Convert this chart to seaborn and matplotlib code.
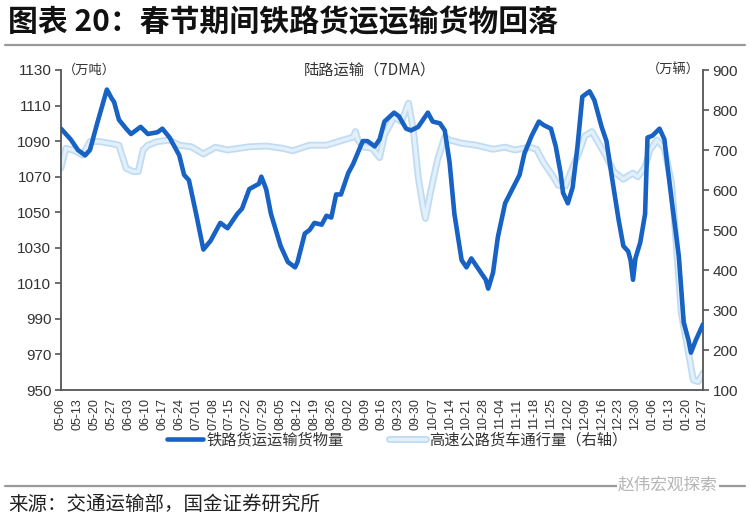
import matplotlib
matplotlib.use("Agg")
import matplotlib.pyplot as plt
import matplotlib.patheffects as pe
from matplotlib.lines import Line2D
import numpy as np
import pandas as pd
import seaborn as sns

# ---------------- data ----------------
start_date = "2019-05-06"
end_date = "2020-01-27"

# railway freight volume, 7DMA (万吨), days since 2019-05-06
rail_day = [0, 4, 7, 10, 12, 15, 19, 21, 22, 24, 27, 29, 33, 36, 40, 42, 45, 49, 51, 53,
            56, 59, 62, 66, 69, 73, 75, 78, 82, 83, 85, 87, 89, 91, 92, 94, 97, 98, 101, 103,
            105, 108, 110, 112, 114, 116, 119, 121, 125, 127, 130, 132, 134, 138, 140, 143, 145, 148, 152, 154,
            157, 159, 161, 163, 166, 168, 170, 173, 176, 177, 179, 181, 184, 187, 190, 192, 195, 198, 200, 203,
            205, 207, 208, 210, 212, 214, 216, 219, 221, 224, 226, 228, 231, 233, 235, 236, 237, 238, 240, 242,
            243, 245, 248, 250, 251, 253, 256, 258, 260, 261, 263, 266]
rail_val = [1097, 1091, 1085, 1082, 1085, 1100, 1119, 1114, 1112, 1102, 1097, 1094, 1098, 1094, 1095, 1097, 1092, 1082, 1071, 1068,
            1049, 1029, 1034, 1044, 1041, 1049, 1052, 1063, 1066, 1070, 1063, 1049, 1040, 1031, 1028, 1022, 1019, 1022, 1038, 1040,
            1044, 1043, 1048, 1047, 1060, 1060, 1072, 1077, 1090, 1090, 1087, 1091, 1101, 1106, 1104, 1097, 1096, 1098, 1106, 1101,
            1100, 1096, 1078, 1049, 1023, 1019, 1024, 1018, 1012, 1007, 1016, 1036, 1055, 1063, 1071, 1083, 1093, 1101, 1099, 1097,
            1087, 1072, 1061, 1055, 1064, 1087, 1115, 1118, 1113, 1098, 1090, 1072, 1046, 1031, 1028, 1023, 1012, 1024, 1033, 1049,
            1092, 1093, 1097, 1091, 1079, 1057, 1025, 988, 978, 971, 978, 987]

# expressway truck traffic, 7DMA (万辆), days since 2019-05-06
truck_day = [0, 2, 5, 9, 12, 16, 20, 24, 25, 27, 30, 32, 34, 36, 40, 45, 49, 54, 59, 64,
             69, 78, 85, 92, 96, 103, 110, 117, 121, 122, 123, 125, 129, 132, 134, 138, 141, 144, 146, 148,
             150, 151, 153, 156, 159, 161, 166, 172, 179, 184, 188, 194, 197, 200, 204, 206, 209, 211, 215, 217,
             220, 222, 226, 229, 233, 235, 237, 239, 242, 244, 247, 250, 253, 255, 257, 260, 262, 264, 266]
truck_val = [655, 704, 700, 687, 721, 721, 717, 712, 692, 654, 646, 646, 700, 712, 721, 725, 712, 708, 690, 707,
             700, 708, 710, 704, 698, 712, 712, 725, 732, 746, 725, 708, 704, 681, 737, 783, 771, 817, 750, 633,
             558, 529, 592, 675, 733, 725, 717, 712, 702, 707, 700, 707, 702, 668, 633, 612, 610, 642, 700, 735,
             746, 725, 683, 646, 627, 635, 642, 633, 658, 700, 725, 704, 617, 458, 292, 192, 125, 121, 142]

left_ticks = list(range(950, 1131, 20))
right_ticks = list(range(100, 901, 100))

title = "图表 20：春节期间铁路货运运输货物回落"
inner_title = "陆路运输（7DMA）"
left_unit = "（万吨）"
right_unit = "（万辆）"
rail_label = "铁路货运运输货物量"
truck_label = "高速公路货车通行量（右轴）"
source = "来源：交通运输部，国金证券研究所"
watermark = "赵伟宏观探索"

# ---------------- build frames ----------------
t0 = pd.Timestamp(start_date)
rail = pd.DataFrame({"date": t0 + pd.to_timedelta(rail_day, unit="D"), "value": rail_val})
truck = pd.DataFrame({"date": t0 + pd.to_timedelta(truck_day, unit="D"), "value": truck_val})
tick_dates = pd.date_range(start_date, end_date, freq="7D")

# ---------------- style ----------------
sns.set_theme(style="white")
plt.rcParams["font.family"] = ["Liberation Sans", "Noto Sans CJK SC", "DejaVu Sans"]
plt.rcParams["axes.unicode_minus"] = False
cjk = ["Noto Sans CJK SC", "DejaVu Sans"]

fig = plt.figure(figsize=(7.5, 5.23), dpi=100)
ax = fig.add_axes([61 / 750, 1 - 390 / 523, (703 - 61) / 750, (390 - 70) / 523])
ax2 = ax.twinx()

dark = "#1762c2"
light_in = "#e2f0fb"
light_edge = "#c1dcf2"
txt = "#333333"
spine_c = "#555555"

sns.lineplot(data=truck, x="date", y="value", ax=ax2, color=light_in, linewidth=2.4,
             path_effects=[pe.Stroke(linewidth=5.0, foreground=light_edge), pe.Normal()],
             label=truck_label, legend=False)
sns.lineplot(data=rail, x="date", y="value", ax=ax, color=dark, linewidth=3.3,
             label=rail_label, legend=False)

ax.set_zorder(ax2.get_zorder() + 1)
ax.patch.set_visible(False)

ax.set_xlim(tick_dates[0], tick_dates[-1])
ax.set_ylim(950, 1130)
ax2.set_ylim(100, 900)
ax.set_yticks(left_ticks)
ax2.set_yticks(right_ticks)
ax.set_xticks(tick_dates)
ax.set_xticklabels([d.strftime("%m-%d") for d in tick_dates], rotation=90)
ax.set_xlabel("")
ax.set_ylabel("")
ax2.set_ylabel("")

for a in (ax, ax2):
    a.grid(False)
    a.spines["top"].set_visible(False)
    for s in ("left", "right", "bottom"):
        a.spines[s].set_color(spine_c)
        a.spines[s].set_linewidth(1.3)
ax.spines["right"].set_visible(False)
ax2.spines["left"].set_visible(False)
ax2.spines["bottom"].set_visible(False)

ax.tick_params(axis="y", direction="out", length=4, width=1.2, colors=spine_c,
               labelcolor=txt, labelsize=11, pad=3)
ax.tick_params(axis="x", direction="out", length=4, width=1.2, colors=spine_c,
               labelcolor=txt, labelsize=9, pad=2)
ax2.tick_params(axis="y", direction="out", length=4, width=1.2, colors=spine_c,
                labelcolor=txt, labelsize=11, pad=3)

# ---------------- texts ----------------
fig.text(8 / 750, 1 - 22 / 523, title, fontsize=21.5, fontweight="bold", color="#111111",
         ha="left", va="center", family=cjk)
fig.add_artist(Line2D([5 / 750, 745 / 750], [1 - 45 / 523] * 2, transform=fig.transFigure,
                      color="#9a9a9a", linewidth=1.6))
fig.text(370 / 750, 1 - 70 / 523, inner_title, fontsize=11, color=txt, ha="center", va="center",
         family=cjk)
fig.text(63 / 750, 1 - 70 / 523, left_unit, fontsize=9.5, color=txt, ha="left", va="center",
         family=cjk)
fig.text(700 / 750, 1 - 70 / 523, right_unit, fontsize=9.5, color=txt, ha="right", va="center",
         family=cjk)

handles = [ax.get_lines()[0], ax2.get_lines()[0]]
leg = fig.legend(handles, [rail_label, truck_label], loc="center",
                 bbox_to_anchor=(397 / 750, 1 - 440 / 523), ncol=2, frameon=False,
                 handlelength=2.4, columnspacing=3.0, handletextpad=0.2,
                 prop={"family": cjk, "size": 11})
for t in leg.get_texts():
    t.set_color(txt)

fig.add_artist(Line2D([5 / 750, 745 / 750], [1 - 486 / 523] * 2, transform=fig.transFigure,
                      color="#9a9a9a", linewidth=1.6))
fig.text(618 / 750, 1 - 485 / 523, watermark, fontsize=12, color="#b5b5b5", ha="left", va="center",
         family=cjk, bbox=dict(facecolor="white", edgecolor="none", pad=1))
fig.text(8 / 750, 1 - 504 / 523, source, fontsize=14, color="#222222", ha="left", va="center",
         family=cjk)

fig.savefig("out.png", dpi=100)
